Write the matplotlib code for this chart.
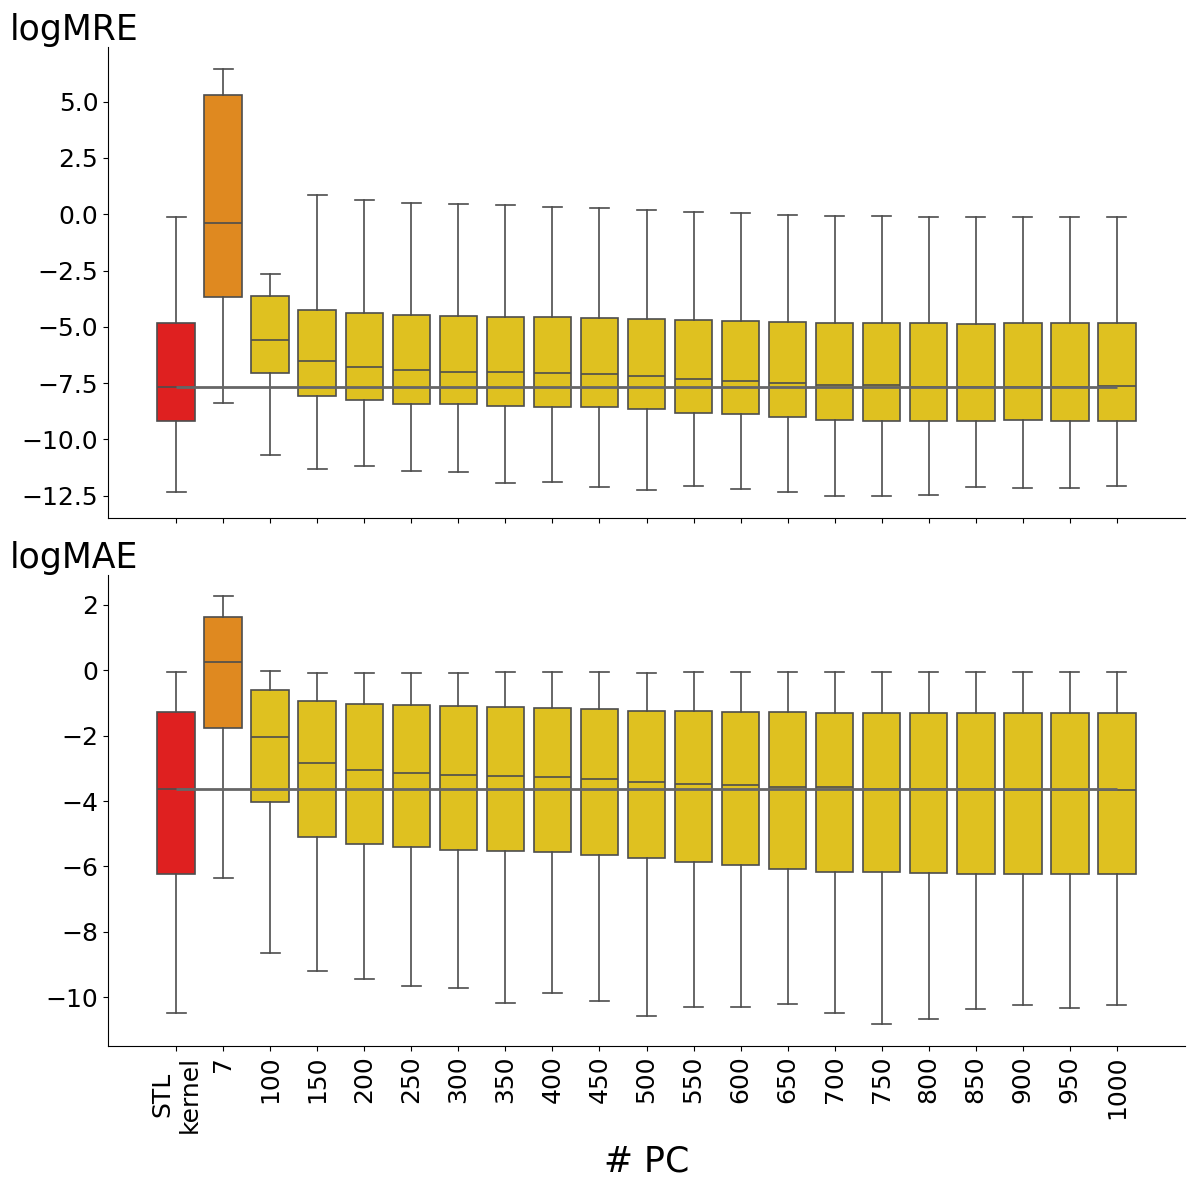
import numpy as np
import matplotlib
matplotlib.use("Agg")
import matplotlib.pyplot as plt
from matplotlib.ticker import MultipleLocator

# categories (number of principal components)
labels = ["STL\nkernel", "7", "100", "150", "200", "250", "300", "350", "400", "450",
          "500", "550", "600", "650", "700", "750", "800", "850", "900", "950", "1000"]

# logMRE box statistics
mre_hi = [-0.13, 6.44, -2.66, 0.84, 0.62, 0.50, 0.44, 0.41, 0.31, 0.27, 0.18,
          0.09, 0.04, -0.04, -0.09, -0.09, -0.13, -0.13, -0.13, -0.13, -0.13]
mre_q3 = [-4.84, 5.28, -3.64, -4.26, -4.40, -4.49, -4.53, -4.57, -4.57, -4.62, -4.66,
          -4.71, -4.75, -4.80, -4.84, -4.84, -4.84, -4.88, -4.84, -4.84, -4.84]
mre_med = [-7.66, -0.39, -5.60, -6.51, -6.79, -6.91, -7.00, -7.02, -7.06, -7.10, -7.19,
           -7.33, -7.42, -7.50, -7.59, -7.59, -7.67, -7.67, -7.67, -7.67, -7.64]
mre_q1 = [-9.19, -3.67, -7.06, -8.08, -8.25, -8.44, -8.44, -8.53, -8.57, -8.57, -8.66,
          -8.84, -8.88, -9.01, -9.13, -9.19, -9.19, -9.19, -9.15, -9.19, -9.19]
mre_lo = [-12.33, -8.39, -10.69, -11.32, -11.19, -11.41, -11.46, -11.95, -11.90, -12.12, -12.26,
          -12.08, -12.21, -12.34, -12.52, -12.52, -12.48, -12.12, -12.17, -12.17, -12.08]

# logMAE box statistics
mae_hi = [-0.07, 2.26, -0.03, -0.10, -0.10, -0.10, -0.10, -0.07, -0.07, -0.07, -0.10,
          -0.07, -0.07, -0.07, -0.07, -0.07, -0.07, -0.07, -0.07, -0.07, -0.07]
mae_q3 = [-1.28, 1.64, -0.62, -0.93, -1.02, -1.05, -1.08, -1.14, -1.17, -1.20, -1.24,
          -1.24, -1.27, -1.27, -1.30, -1.30, -1.30, -1.30, -1.30, -1.30, -1.30]
mae_med = [-3.64, 0.24, -2.05, -2.84, -3.06, -3.15, -3.21, -3.24, -3.27, -3.33, -3.43,
           -3.49, -3.52, -3.57, -3.57, -3.62, -3.62, -3.62, -3.65, -3.65, -3.65]
mae_q1 = [-6.23, -1.77, -4.04, -5.11, -5.30, -5.41, -5.50, -5.54, -5.57, -5.66, -5.75,
          -5.87, -5.96, -6.09, -6.18, -6.18, -6.21, -6.24, -6.24, -6.24, -6.24]
mae_lo = [-10.49, -6.36, -8.65, -9.20, -9.45, -9.66, -9.72, -10.18, -9.88, -10.12, -10.58,
          -10.31, -10.31, -10.21, -10.49, -10.83, -10.67, -10.37, -10.25, -10.34, -10.25]

colors = ["#df2020", "#df8920"] + ["#dfc120"] * 19
edge = "#4d4d4d"


def draw(ax, lo, q1, med, q3, hi):
    stats = []
    for i in range(len(labels)):
        stats.append(dict(whislo=lo[i], q1=q1[i], med=med[i], q3=q3[i], whishi=hi[i], fliers=[]))
    pos = np.arange(len(labels))
    b = ax.bxp(stats, positions=pos, widths=0.8, patch_artist=True, showfliers=False,
               boxprops=dict(edgecolor=edge, linewidth=1.2),
               whiskerprops=dict(color=edge, linewidth=1.2),
               capprops=dict(color=edge, linewidth=1.2),
               medianprops=dict(color=edge, linewidth=1.2),
               capwidths=0.4)
    for patch, c in zip(b["boxes"], colors):
        patch.set_facecolor(c)
    # reference line at STL median
    ax.hlines(med[0], 0, len(labels) - 1, color="#666666", linewidth=2, zorder=5)
    ax.set_xlim(-1.45, 21.45)
    ax.spines["top"].set_visible(False)
    ax.spines["right"].set_visible(False)
    ax.tick_params(labelsize=18)


fig = plt.figure(figsize=(11.94, 11.90), dpi=100)
ax1 = fig.add_axes([108 / 1194, 1 - 518 / 1190, 1077 / 1194, 471 / 1190])
ax2 = fig.add_axes([108 / 1194, 1 - 1046 / 1190, 1077 / 1194, 471 / 1190])

draw(ax1, mre_lo, mre_q1, mre_med, mre_q3, mre_hi)
ax1.set_ylim(-13.49, 7.43)
ax1.yaxis.set_major_locator(MultipleLocator(2.5))
ax1.set_xticks(np.arange(len(labels)))
ax1.set_xticklabels([])

draw(ax2, mae_lo, mae_q1, mae_med, mae_q3, mae_hi)
ax2.set_ylim(-11.49, 2.91)
ax2.yaxis.set_major_locator(MultipleLocator(2))
ax2.set_xticks(np.arange(len(labels)))
ax2.set_xticklabels(labels, rotation=90, fontsize=18)

fig.text(10 / 1194, 1 - 40 / 1190, "logMRE", fontsize=25, va="baseline", ha="left")
fig.text(10 / 1194, 1 - 568 / 1190, "logMAE", fontsize=25, va="baseline", ha="left")
fig.text(646.5 / 1194, 1 - 1162 / 1190, "# PC", fontsize=25, va="center", ha="center")

fig.savefig("out.png", dpi=100)
